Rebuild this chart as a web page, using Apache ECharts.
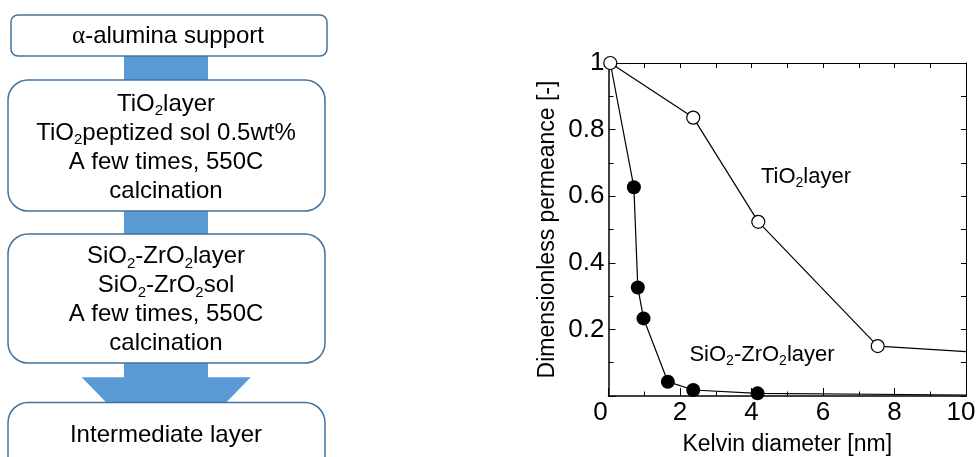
<!DOCTYPE html>
<html>
<head>
<meta charset="utf-8">
<script src="https://cdn.jsdelivr.net/npm/echarts@6/dist/echarts.min.js"></script>
<style>
html,body{margin:0;padding:0;background:#fff;}
#c{width:980px;height:457px;}
</style>
</head>
<body>
<div id="c"></div>
<script>
// ---- data ----
const tioX = [0.05, 2.37, 4.19, 7.53, 10];
const tioY = [1.0, 0.836, 0.523, 0.150, 0.133];
const tioMarker = [true, true, true, true, false];
const sizX = [0.05, 0.71, 0.82, 0.98, 1.66, 2.37, 4.17, 10];
const sizY = [1.0, 0.627, 0.326, 0.233, 0.043, 0.018, 0.008, 0.003];
const sizMarker = [false, true, true, true, true, true, true, false];
const xTicks = [0, 2, 4, 6, 8, 10];
const yTicks = [0, 0.2, 0.4, 0.6, 0.8, 1];
const xName = 'Kelvin diameter [nm]';
const yName = 'Dimensionless permeance [-]';

const FONT = '"Liberation Sans", Arial, sans-serif';
const chart = echarts.init(document.getElementById('c'), null, {renderer: 'canvas'});

function mk(xs, ys, flags) {
  return xs.map((x, i) => flags[i] ? [x, ys[i]] : {value: [x, ys[i]], symbol: 'none'});
}

const richFlow = {
  n: {fontSize: 24, fontFamily: FONT, lineHeight: 29, fill: '#000', color: '#000'},
  s: {fontSize: 15, fontFamily: FONT, lineHeight: 12, verticalAlign: 'bottom', fill: '#000', color: '#000'},
  g: {fontSize: 25, fontFamily: '"Liberation Serif", "DejaVu Serif", serif', lineHeight: 29, fill: '#000', color: '#000'}
};
const richPlot = {
  n: {fontSize: 22, fontFamily: FONT, lineHeight: 26, fill: '#000', color: '#000'},
  s: {fontSize: 14, fontFamily: FONT, lineHeight: 10, verticalAlign: 'bottom', fill: '#000', color: '#000'}
};
const BORDER = '#41719C';
const FILL = '#5B9BD5';

function txt(x, y, text, rich) {
  return {type: 'text', x: x, y: y, z: 10,
    style: {text: text, rich: rich, align: 'center', verticalAlign: 'middle', fill: '#000', font: '24px ' + FONT}};
}
function box(x, y, w, h, r) {
  return {type: 'rect', z: 5, shape: {x: x, y: y, width: w, height: h, r: r},
    style: {fill: '#fff', stroke: BORDER, lineWidth: 1.5}};
}

const graphics = [
  {type: 'rect', z: 1, shape: {x: 124, y: 50, width: 84, height: 36}, style: {fill: FILL}},
  {type: 'rect', z: 1, shape: {x: 124, y: 205, width: 84, height: 35}, style: {fill: FILL}},
  {type: 'polygon', z: 1, shape: {points: [[124, 358], [208, 358], [208, 377.3], [250.7, 377.3], [166.2, 464], [81.7, 377.3], [124, 377.3]]}, style: {fill: FILL}},
  box(11, 15, 316, 41, 7),
  box(8, 80, 317, 131, 20),
  box(8, 234, 317, 129, 20),
  box(8, 402.5, 317, 90, 20),
  txt(168, 36, '{g|α}{n|-alumina support}', richFlow),
  txt(166, 147.5, '{n|TiO}{s|2}{n|layer}\n{n|TiO}{s|2}{n|peptized sol 0.5wt%}\n{n|A few times, 550C}\n{n|calcination}', richFlow),
  txt(166, 300, '{n|SiO}{s|2}{n|-ZrO}{s|2}{n|layer}\n{n|SiO}{s|2}{n|-ZrO}{s|2}{n|sol}\n{n|A few times, 550C}\n{n|calcination}', richFlow),
  txt(166, 435, '{n|Intermediate layer}', richFlow),
  txt(806, 177, '{n|TiO}{s|2}{n|layer}', richPlot),
  txt(762, 355, '{n|SiO}{s|2}{n|-ZrO}{s|2}{n|layer}', richPlot)
];

const option = {
  animation: false,
  backgroundColor: '#fff',
  grid: {left: 608.5, right: 14, top: 63, bottom: 61, containLabel: false, outerBoundsMode: 'none'},
  xAxis: [{
    type: 'value', min: xTicks[0], max: xTicks[xTicks.length - 1], interval: 2, position: 'bottom',
    name: xName, nameLocation: 'middle', nameGap: 37,
    nameTextStyle: {fontSize: 23, fontFamily: FONT, color: '#000'},
    axisLine: {show: true, onZero: false, lineStyle: {color: '#000', width: 1.5}},
    axisTick: {show: true, inside: true, length: 8, lineStyle: {color: '#000', width: 1}},
    minorTick: {show: true, splitNumber: 2, length: 4.5, lineStyle: {color: '#000', width: 1}},
    splitLine: {show: false},
    axisLabel: {show: true, margin: 4, fontSize: 26, fontFamily: FONT, color: '#000',
      formatter: v => v === 0 ? '{a|0}' : v === 10 ? '{b|10}' : String(v),
      rich: {a: {fontSize: 26, fontFamily: FONT, color: '#000', padding: [0, 16, 0, 0]},
             b: {fontSize: 26, fontFamily: FONT, color: '#000', padding: [0, 10, 0, 0]}}}
  }, {
    type: 'value', min: 0, max: 10, interval: 1, position: 'top',
    axisLine: {show: true, onZero: false, lineStyle: {color: '#000', width: 1}},
    axisTick: {show: true, inside: true, length: 5, lineStyle: {color: '#000', width: 1}},
    axisLabel: {show: false}, splitLine: {show: false}
  }],
  yAxis: [{
    type: 'value', min: yTicks[0], max: yTicks[yTicks.length - 1], interval: 0.2, position: 'left',
    name: yName, nameLocation: 'middle', nameGap: 49,
    nameTextStyle: {fontSize: 23, fontFamily: FONT, color: '#000'},
    axisLine: {show: true, onZero: false, lineStyle: {color: '#000', width: 1.5}},
    axisTick: {show: true, inside: true, length: 7, lineStyle: {color: '#000', width: 1}},
    minorTick: {show: true, splitNumber: 2, length: 5, lineStyle: {color: '#000', width: 1}},
    splitLine: {show: false},
    axisLabel: {show: true, margin: 4, fontSize: 26, fontFamily: FONT, color: '#000',
      formatter: v => v === 0 ? '' : (v === 1 ? '1' : v.toFixed(1))}
  }, {
    type: 'value', min: 0, max: 1, interval: 0.1, position: 'right',
    axisLine: {show: true, onZero: false, lineStyle: {color: '#000', width: 1}},
    axisTick: {show: true, inside: true, length: 5, lineStyle: {color: '#000', width: 1}},
    axisLabel: {show: false}, splitLine: {show: false}
  }],
  series: [{
    name: 'SiO2-ZrO2 layer', type: 'line', xAxisIndex: 0, yAxisIndex: 0, z: 3,
    data: mk(sizX, sizY, sizMarker),
    symbol: 'circle', symbolSize: 14,
    itemStyle: {color: '#000', borderColor: '#000', borderWidth: 0},
    lineStyle: {color: '#000', width: 1.2},
    clip: false
  }, {
    name: 'TiO2 layer', type: 'line', xAxisIndex: 0, yAxisIndex: 0, z: 4,
    data: mk(tioX, tioY, tioMarker),
    symbol: 'circle', symbolSize: 13,
    itemStyle: {color: '#fff', borderColor: '#000', borderWidth: 1.2},
    lineStyle: {color: '#000', width: 1.2},
    clip: false
  }],
  graphic: graphics
};
chart.setOption(option);
</script>
</body>
</html>
